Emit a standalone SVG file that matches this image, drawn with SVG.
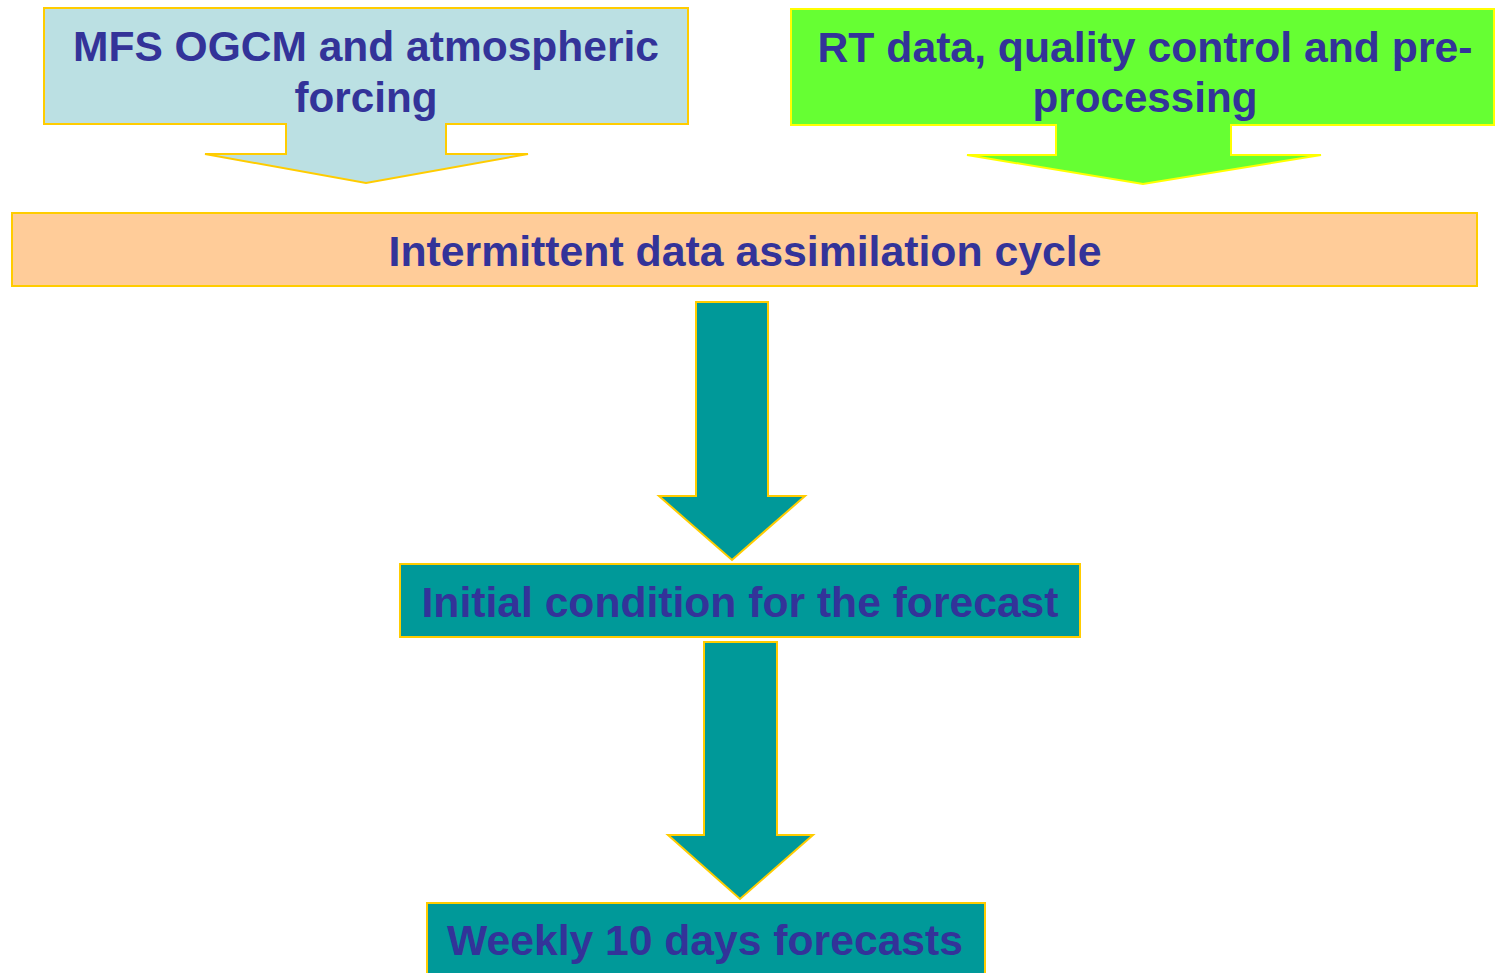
<svg xmlns="http://www.w3.org/2000/svg" width="1497" height="973" viewBox="0 0 1497 973">
<style>
.t{font-family:"Liberation Sans",Arial,sans-serif;font-weight:bold;font-size:42px;fill:#333399;text-anchor:middle}
.s{stroke:#FFCC00;stroke-width:2;stroke-linejoin:miter}
</style>
<rect width="1497" height="973" fill="#FFFFFF"/>
<g id="mfs">
<path class="s" fill="#BBE0E3" d="M44,8 H688 V124 H446 V154 H528 L366,183 L205,154 H286 V124 H44 Z"/>
<text class="t" x="366" y="61" textLength="586" lengthAdjust="spacingAndGlyphs">MFS OGCM and atmospheric</text>
<text class="t" x="366" y="112" textLength="143" lengthAdjust="spacingAndGlyphs">forcing</text>
</g>
<g id="rtdata">
<path stroke="#FFFF00" stroke-width="2" fill="#66FF33" d="M791,9 H1494 V125 H1231 V155 H1321 L1143,184 L967,155 H1056 V125 H791 Z"/>
<text class="t" x="1145" y="62" textLength="655" lengthAdjust="spacingAndGlyphs">RT data, quality control and pre-</text>
<text class="t" x="1145" y="112" textLength="225" lengthAdjust="spacingAndGlyphs">processing</text>
</g>
<g id="assim">
<rect class="s" fill="#FFCC99" x="12" y="213" width="1465" height="73"/>
<text class="t" x="745" y="266" textLength="713" lengthAdjust="spacingAndGlyphs">Intermittent data assimilation cycle</text>
</g>
<g id="connectors">
<path class="s" fill="#009999" d="M696,302 H768 V496 H805 L732,560 L659,496 H696 Z"/>
<path class="s" fill="#009999" d="M704,642 H777 V835 H813 L740,899 L668,835 H704 Z"/>
</g>
<g id="initial">
<rect class="s" fill="#009999" x="400" y="564" width="680" height="73"/>
<text class="t" x="740" y="617" textLength="637" lengthAdjust="spacingAndGlyphs">Initial condition for the forecast</text>
</g>
<g id="weekly">
<rect class="s" fill="#009999" x="427" y="903" width="558" height="80"/>
<text class="t" x="705" y="955" textLength="516" lengthAdjust="spacingAndGlyphs">Weekly 10 days forecasts</text>
</g>
</svg>
